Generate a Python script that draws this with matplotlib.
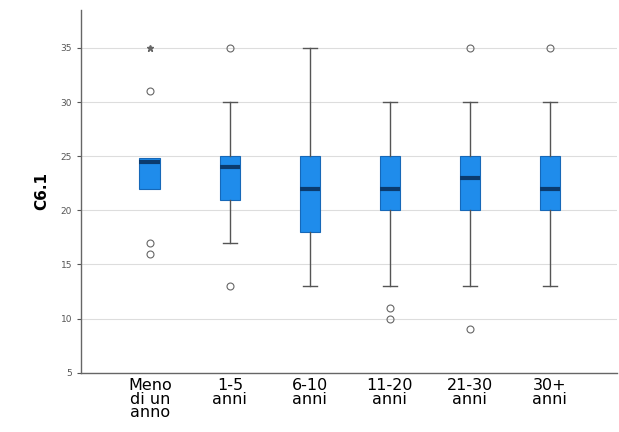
import numpy as np
import matplotlib.pyplot as plt

# Categories and box statistics
categories = ["Meno\ndi un\nanno", "1-5\nanni", "6-10\nanni", "11-20\nanni", "21-30\nanni", "30+\nanni"]
q1 = [22, 21, 18, 20, 20, 20]
medians = [24.5, 24, 22, 22, 23, 22]
q3 = [24.8, 25, 25, 25, 25, 25]
whisker_low = [22, 17, 13, 13, 13, 13]
whisker_high = [24.8, 30, 35, 30, 30, 30]
outliers = [[31, 17, 16], [35, 13], [], [11, 10], [35, 9], [35]]
extremes = [[35], [], [], [], [], []]

y_ticks = [5, 10, 15, 20, 25, 30, 35]

BOX_COLOR = "#1f8ceb"
EDGE_COLOR = "#1668b8"
MEDIAN_COLOR = "#0b3b6e"

stats = []
for i, label in enumerate(categories):
    stats.append(
        {
            "label": label,
            "q1": q1[i],
            "med": medians[i],
            "q3": q3[i],
            "whislo": whisker_low[i],
            "whishi": whisker_high[i],
            "fliers": outliers[i],
        }
    )

positions = np.arange(1, len(categories) + 1)

fig = plt.figure(figsize=(6.19, 4.32), dpi=100)
ax = fig.add_axes([0.131, 0.137, 0.866, 0.84])

parts = ax.bxp(
    stats,
    positions=positions,
    widths=0.26,
    patch_artist=True,
    boxprops=dict(facecolor=BOX_COLOR, edgecolor=EDGE_COLOR, linewidth=0.8),
    medianprops=dict(color=MEDIAN_COLOR, linewidth=3),
    whiskerprops=dict(color="#555555", linewidth=1.0),
    capprops=dict(color="#555555", linewidth=1.0),
    capwidths=0.18,
    flierprops=dict(marker="o", markersize=5, markerfacecolor="none",
                    markeredgecolor="#666666", markeredgewidth=0.8),
)

# No whiskers/caps where they coincide with the box edges
for i in range(len(categories)):
    if whisker_low[i] == q1[i]:
        parts["whiskers"][2 * i].set_visible(False)
        parts["caps"][2 * i].set_visible(False)
    if whisker_high[i] == q3[i]:
        parts["whiskers"][2 * i + 1].set_visible(False)
        parts["caps"][2 * i + 1].set_visible(False)

# Extreme values drawn as small stars
for pos, vals in zip(positions, extremes):
    if vals:
        ax.plot([pos] * len(vals), vals, linestyle="none", marker="*",
                markersize=5, color="#666666")

# Horizontal grid behind the boxes
ax.set_axisbelow(True)
ax.yaxis.grid(True, color="#dddddd", linewidth=0.8)

ax.set_xlim(0.14, 6.84)
ax.set_ylim(5, 38.5)
ax.set_yticks(y_ticks)
ax.tick_params(axis="y", labelsize=6.5, colors="#555555", length=3)
ax.tick_params(axis="x", labelsize=11.5, length=0, pad=4)
ax.set_xticklabels(categories, linespacing=0.85)

ax.set_ylabel("C6.1", fontsize=11, fontweight="bold", labelpad=8)

for side in ["top", "right"]:
    ax.spines[side].set_visible(False)
for side in ["left", "bottom"]:
    ax.spines[side].set_color("#666666")
    ax.spines[side].set_linewidth(1.0)

fig.savefig("out.png", dpi=100)
